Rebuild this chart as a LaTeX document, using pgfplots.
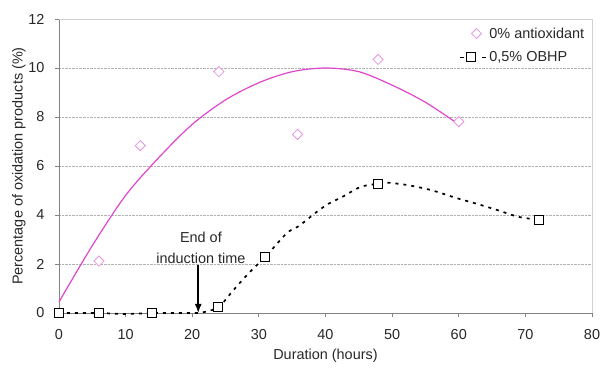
\documentclass[border=0pt]{standalone}
\usepackage{pgfplots}
\pgfplotsset{compat=1.18}
\usepackage{fontspec}
\setmainfont{Liberation Sans}
\usetikzlibrary{arrows.meta}
\definecolor{pinkline}{RGB}{222,70,205}
\definecolor{pinkmark}{RGB}{228,150,225}
\definecolor{axgray}{RGB}{130,130,130}
\definecolor{framegray}{RGB}{210,210,210}
\definecolor{txt}{RGB}{40,40,40}
\begin{document}
\begin{tikzpicture}
\begin{axis}[
  scale only axis,
  width=533bp, height=294bp,
  xmin=0, xmax=80, ymin=0, ymax=12,
  xtick={0,10,...,80}, ytick={0,2,...,12},
  axis lines=left,
  axis line style={-, draw=axgray, line width=0.8bp},
  tick style={draw=axgray, line width=0.8bp},
  tick align=outside,
  major tick length=4bp,
  ymajorgrids,
  grid style={densely dotted, draw=gray!60, line width=0.6bp},
  every tick label/.append style={font=\fontsize{14.5}{17}\selectfont, text=txt},
  xticklabel style={yshift=-9bp},
  yticklabel style={xshift=-7bp},
  /pgf/number format/assume math mode=true,
  xlabel={Duration (hours)},
  ylabel={Percentage of oxidation products (\%)},
  label style={font=\fontsize{14.5}{17}\selectfont, text=txt},
  xlabel style={yshift=-2bp},
  ylabel style={yshift=-4bp},
  clip=false,
  legend cell align=left,
  legend style={at={(rel axis cs:0.995,0.985)}, anchor=north east, draw=none, fill=none,
    font=\fontsize{14.5}{17}\selectfont, text=txt, row sep=8bp},
]
% frame top/right
\draw[framegray, line width=0.8bp] (rel axis cs:0,1) -- (rel axis cs:1,1) -- (rel axis cs:1,0);

% pink trend curve
\addplot[pinkline, line width=1.2bp, smooth, forget plot] coordinates {
(0,0.45) (5,2.75) (10,4.8) (15,6.35) (20,7.7) (25,8.7) (30,9.4) (35,9.85) (40,10.0) (45,9.85) (50,9.3) (55,8.6) (60,7.7)};

% dashed OBHP curve
\addplot[black, line width=1.7bp, dash pattern=on 3bp off 5bp, smooth, forget plot] coordinates {
(0,0) (3,0) (6,0) (10,-0.04) (14,0) (18,0) (21,0) (22,0.05) (24,0.25) (26.2,0.94) (28.7,1.69) (31,2.3) (34.2,3.26) (36,3.55) (38.7,4.13) (40.4,4.45) (42.6,4.75) (45.3,5.15) (48,5.28) (49.3,5.32) (52.3,5.22) (55.8,5.02) (59.8,4.68) (62.8,4.45) (65.8,4.2) (68.9,3.93) (72,3.8)};

% 0% antioxidant data
\addplot[only marks, mark=square*, mark size=3.6bp, mark options={rotate=45, draw=pinkmark, fill=white, line width=0.8bp},
  legend image code/.code={
    \path[draw=none, fill=none] (0bp,0bp) -- (27bp,0bp);
    \draw[pinkmark, fill=white, line width=0.8bp, solid] (11bp,0bp) -- (16bp,5bp) -- (21bp,0bp) -- (16bp,-5bp) -- cycle;}]
coordinates {(6,2.12) (12.2,6.83) (24,9.85) (35.8,7.29) (47.9,10.35) (60,7.81)};
\addlegendentry{0\% antioxidant}

\addplot[only marks, mark=square*, mark size=4.5bp, mark options={draw=black, fill=white, line width=0.8bp}, forget plot]
coordinates {(0,0) (6,0) (14,0) (23.9,0.23) (30.9,2.27) (47.9,5.25) (72,3.8)};
\addlegendimage{legend image code/.code={
    \path[draw=none, fill=none] (0bp,0bp) -- (27bp,0bp);
    \draw[black, line width=1.6bp, solid] (0bp,0bp) -- (4bp,0bp);
    \draw[black, line width=1.6bp, solid] (22bp,0bp) -- (26bp,0bp);
    \draw[black, fill=white, line width=0.8bp, solid] (6.5bp,-4.5bp) rectangle (15.5bp,4.5bp);}}
\addlegendentry{0,5\% OBHP}

\draw[-{Latex[length=9bp,width=7bp]}, line width=1.6bp] (axis cs:20.9,1.96) -- (axis cs:20.9,0.0);
\node[align=center, font=\fontsize{14.5}{21}\selectfont, text=txt] at (axis cs:21.3,2.65) {End of\\induction time};
\end{axis}
\pgfresetboundingbox
\path[use as bounding box] (-59bp,-56bp) rectangle (541bp,313bp);
\end{tikzpicture}
\end{document}
